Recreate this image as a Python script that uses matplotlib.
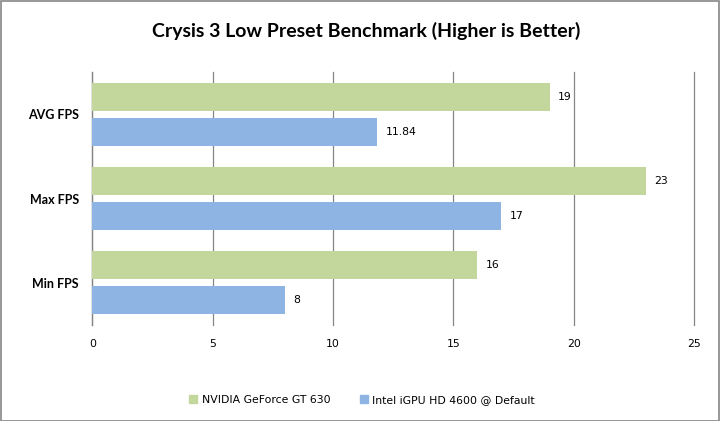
import matplotlib
matplotlib.use("Agg")
import matplotlib.pyplot as plt
from matplotlib.patches import Rectangle, Patch

categories = ["AVG FPS", "Max FPS", "Min FPS"]
series_names = ["NVIDIA GeForce GT 630", "Intel iGPU HD 4600 @ Default"]
nvidia = [19, 23, 16]
intel = [11.84, 17, 8]
value_labels_nvidia = ["19", "23", "16"]
value_labels_intel = ["11.84", "17", "8"]
xticks = [0, 5, 10, 15, 20, 25]

green = "#C3D69B"
blue = "#8EB4E3"
grid = "#868686"

W, H = 720, 421
fig = plt.figure(figsize=(W / 100, H / 100), dpi=100)
ax = fig.add_axes([92.3 / W, 96 / H, (694 - 92.3) / W, (325 - 72) / H])

pos = list(range(len(categories)))
bh = 0.332
off = 0.2076
ax.barh([p - off for p in pos], nvidia, height=bh, color=green, zorder=3)
ax.barh([p + off for p in pos], intel, height=bh, color=blue, zorder=3)

for p, v, t in zip(pos, nvidia, value_labels_nvidia):
    ax.annotate(t, (v, p - off), xytext=(6, 0), textcoords="offset points",
                va="center", ha="left", fontsize=7.8, family="DejaVu Sans")
for p, v, t in zip(pos, intel, value_labels_intel):
    ax.annotate(t, (v, p + off), xytext=(6, 0), textcoords="offset points",
                va="center", ha="left", fontsize=7.8, family="DejaVu Sans")

ax.set_xlim(0, 25)
ax.set_ylim(2.5, -0.5)
ax.set_xticks(xticks)
ax.set_xticklabels([str(x) for x in xticks], fontsize=7.8, family="DejaVu Sans")
ax.set_yticks(pos)
ax.set_yticklabels(categories, fontsize=9, fontweight="bold", family="Lato")
ax.tick_params(axis="both", length=0)
ax.tick_params(axis="x", pad=10)
ax.tick_params(axis="y", pad=9.5)
for s in ["top", "right", "bottom"]:
    ax.spines[s].set_visible(False)
ax.spines["left"].set_color(grid)
ax.spines["left"].set_linewidth(0.9)
ax.grid(axis="x", color=grid, linewidth=0.9, zorder=0)
ax.set_axisbelow(True)
for gl in ax.get_xgridlines():
    gl.set_clip_on(False)

fig.text(366 / W, 1 - 36.5 / H, "Crysis 3 Low Preset Benchmark (Higher is Better)",
         ha="center", va="baseline", fontsize=14.0, fontweight="bold", family="Lato")

handles = [Patch(color=green, label=series_names[0]), Patch(color=blue, label=series_names[1])]
fig.legend(handles=handles, loc="center", bbox_to_anchor=(362 / W, 1 - 400 / H), ncol=2,
           frameon=False, handlelength=0.75, handleheight=0.75,
           handletextpad=0.4, columnspacing=2.7, prop={"family": "DejaVu Sans", "size": 7.8})

fig.patches.append(Rectangle((0.5 / W, 0.5 / H), 1 - 1.5 / W, 1 - 1.5 / H, transform=fig.transFigure,
                             fill=False, edgecolor=grid, linewidth=1.2))

fig.savefig("out.png", dpi=100)
